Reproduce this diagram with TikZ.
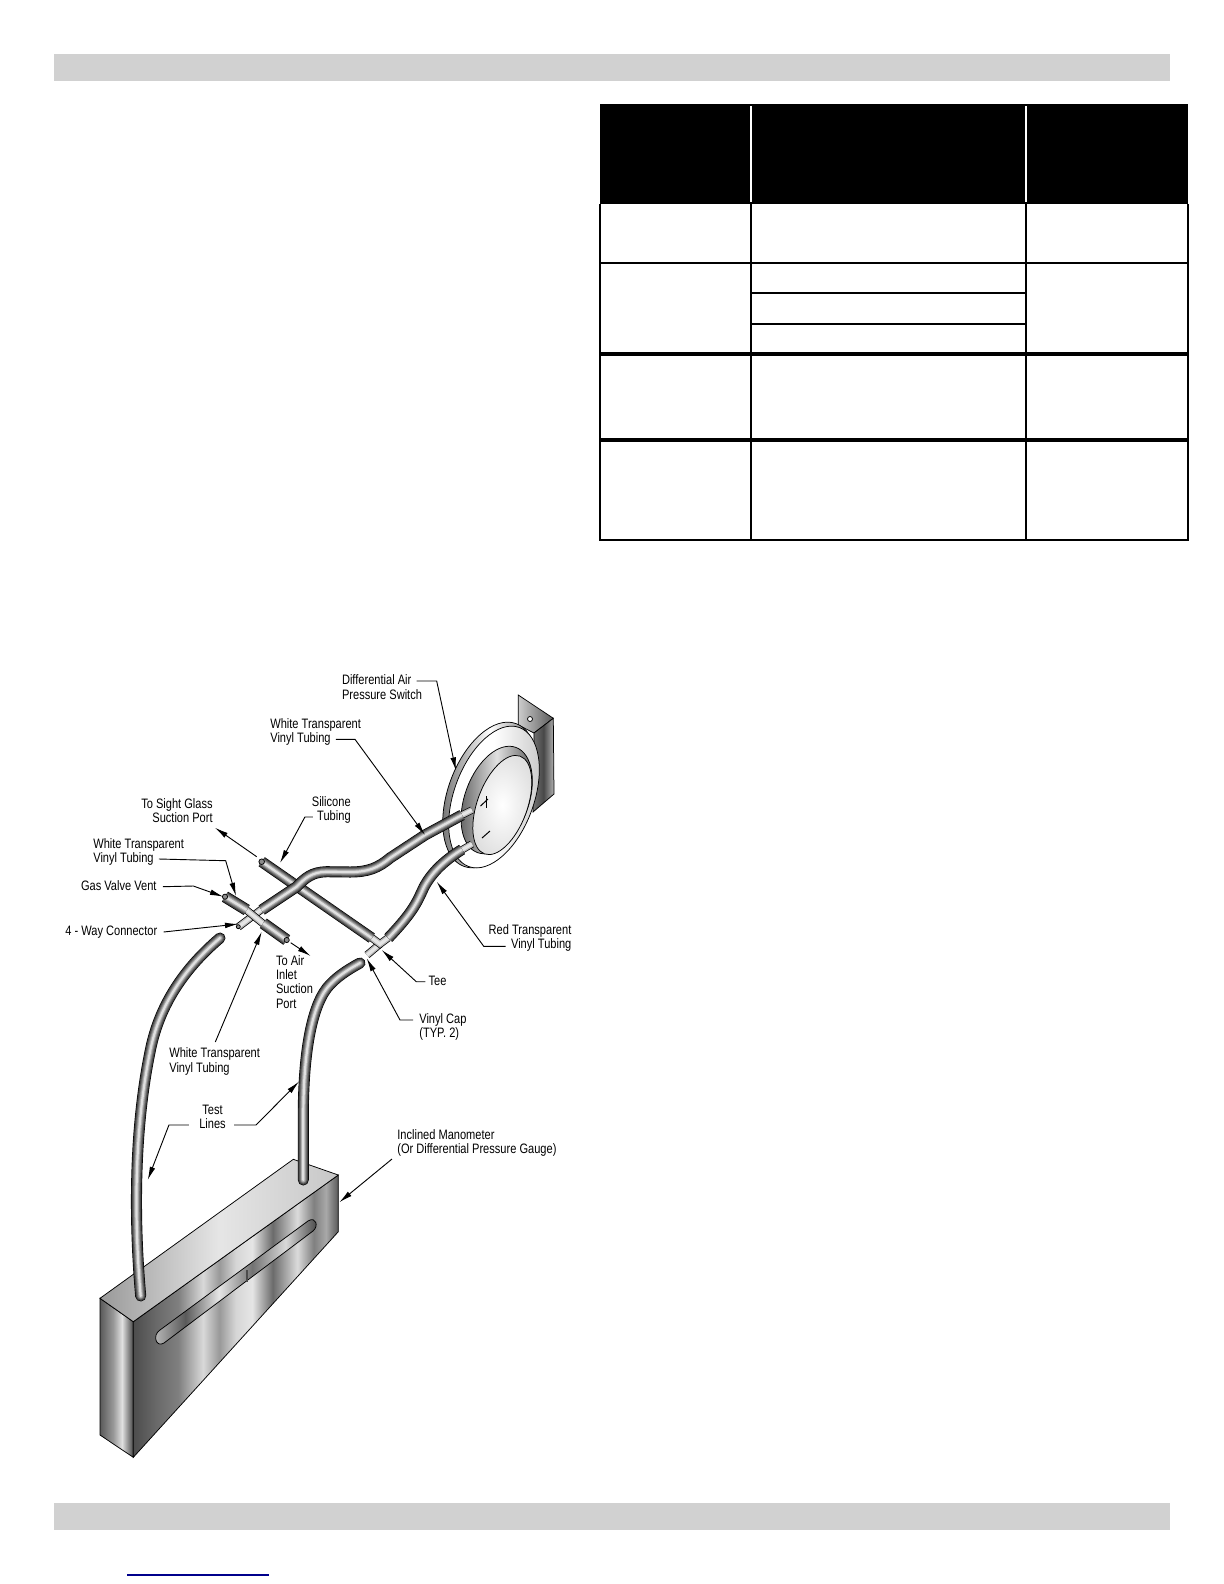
\documentclass[tikz,border=0pt]{standalone}
\usepackage{fontspec}
\setmainfont[FakeStretch=0.81]{Liberation Sans}
\usetikzlibrary{arrows.meta}
% stripes of the brushed metal block
\pgfdeclarehorizontalshading{metalfront}{100bp}{rgb(0bp)=(.3,.3,.3); rgb(25bp)=(.3,.3,.3); rgb(31bp)=(.42,.42,.42); rgb(36bp)=(.5,.5,.5); rgb(42bp)=(.85,.85,.85); rgb(46bp)=(.6,.6,.6); rgb(50bp)=(.84,.84,.84); rgb(54bp)=(.9,.9,.9); rgb(59bp)=(.42,.42,.42); rgb(65bp)=(.86,.86,.86); rgb(69bp)=(.5,.5,.5); rgb(72bp)=(.66,.66,.66); rgb(75bp)=(.35,.35,.35); rgb(100bp)=(.35,.35,.35)}
\pgfdeclarehorizontalshading{metalside}{100bp}{rgb(0bp)=(.35,.35,.35); rgb(25bp)=(.35,.35,.35); rgb(45bp)=(.6,.6,.6); rgb(58bp)=(.88,.88,.88); rgb(75bp)=(.28,.28,.28); rgb(100bp)=(.28,.28,.28)}
\pgfdeclarehorizontalshading{metalslot}{100bp}{rgb(0bp)=(.75,.75,.75); rgb(25bp)=(.75,.75,.75); rgb(35bp)=(.35,.35,.35); rgb(45bp)=(.9,.9,.9); rgb(55bp)=(.45,.45,.45); rgb(65bp)=(.85,.85,.85); rgb(75bp)=(.25,.25,.25); rgb(100bp)=(.25,.25,.25)}
\tikzset{
  lbl/.style={inner sep=0pt,anchor=west,text height=6pt,text depth=1.7pt,font=\fontsize{8.2}{9}\selectfont},
  ldr/.style={line width=.55pt,-{Latex[length=8pt,width=3.4pt]}},
  rule/.style={line width=1.2pt},
  heavyrule/.style={line width=2.2pt},
  edge/.style={draw=black,line width=.45pt}
}
\newcommand{\tube}[3][]{%
  \foreach \w/\g in {1/0,.88/25,.7/38,.54/52,.38/68,.2/88}
    \draw[#1,line width=\w*#2pt,color=white!\g!black] #3;}
\newcommand{\stub}[2]{%
  \foreach \w/\g in {1/0,.8/72,.45/90}
    \draw[line width=\w*#1pt,color=white!\g!black] #2;}
\begin{document}
\begin{tikzpicture}[x=0.6pt,y=-0.6pt]
  \useasboundingbox (0,0) rectangle (1224,1584);
  % page bars
  \fill[black!18!white] (54,54) rectangle (1170,81);
  \fill[black!18!white] (54,1503) rectangle (1170,1530);
  \draw[color=blue!55!black,line width=.7pt] (127,1575) -- (269,1575);

  % table
  \fill (599.5,104) rectangle (1187.7,204);
  \draw[white,rule] (751,106) -- (751,202);
  \draw[white,rule] (1026,106) -- (1026,202);
  \draw[rule] (599.5,204) -- (599.5,540) -- (1187.7,540) -- (1187.7,204);
  \draw[rule] (751,204) -- (751,540);
  \draw[rule] (1026,204) -- (1026,540);
  \draw[rule] (599.5,263) -- (1187.7,263);
  \draw[rule] (751,292.7) -- (1026,292.7);
  \draw[rule] (751,324) -- (1026,324);
  \draw[heavyrule] (599.5,353.7) -- (1187.7,353.7);
  \draw[heavyrule] (599.5,439.7) -- (1187.7,439.7);

  % bracket behind the switch
  \draw[edge,left color=black!20,right color=black!65] (518.3,695) -- (553.3,718.3) -- (534,733) -- (518.3,725) -- cycle;
  \draw[edge,left color=black!55,right color=black!30,middle color=black!72] (534,733) -- (553.3,718.3) -- (554,794) -- (533,812) -- cycle;
  \draw[edge,fill=white] (530,719) circle (2.5);

  % pressure switch
  \draw[edge,left color=black!60,right color=black!65,middle color=white,rotate around={70:(490,795)}] (490,795) ellipse [x radius=76,y radius=42];
  \draw[edge,left color=white,right color=black!22,middle color=white,rotate around={70:(494,797)}] (494,797) ellipse [x radius=74,y radius=40];
  \draw[edge,left color=black!65,right color=black!70,middle color=black!12,rotate around={70:(496.7,800)}] (496.7,800) ellipse [x radius=56,y radius=32];
  \draw[edge,inner color=white,outer color=black!12,rotate around={70:(502.3,805)}] (502.3,805) ellipse [x radius=52,y radius=25];
  \draw[edge,line width=.6pt] (480.5,806) -- (488,799);
  \draw[edge,line width=.6pt] (486.5,796) -- (486.5,808);
  \draw[edge,line width=.6pt] (482,838) -- (490,831);

  % manometer
  \draw[edge,shading=metalside] (100,1298.3) -- (133.3,1321.7) -- (133.3,1457.3) -- (100,1435) -- cycle;
  \draw[edge,shading=metalfront] (133.3,1321.7) -- (338.3,1175) -- (338.3,1231.7) -- (133.3,1457.3) -- cycle;
  \draw[edge,left color=black!40,right color=black!22,middle color=black!10] (100,1298.3) -- (293.3,1159.3) -- (338.3,1175) -- (133.3,1321.7) -- cycle;
  \draw[edge,shading=metalslot] (160,1330) -- (308,1221) .. controls (316,1216) and (319,1226) .. (313,1231) -- (164,1343) .. controls (156,1348) and (152,1335) .. (160,1330) -- cycle;
  \draw[line width=1.2pt,black!70] (246.7,1270) -- (246.7,1281.7);

  % tubing
  \tube[line cap=round]{6.6}{(140.7,1296) .. controls (134,1220) and (134,1130) .. (150,1052) .. controls (158,1010) and (180,972) .. (220,938)};
  \tube[line cap=round]{6.6}{(303.3,1180) -- (303.3,1120) .. controls (303,1060) and (310,1010) .. (327,988) .. controls (335,978) and (347,970) .. (360,963)};
  % fittings
  \stub{4.6}{(238.3,927) -- (262,909)};
  \stub{4.6}{(244,908) -- (266,926)};
  \stub{4.6}{(367,955) -- (380,944)};
  \stub{4.6}{(372,938) -- (380,944) -- (388,938)};
  \stub{4.4}{(460,816) -- (472,810)};
  \stub{4.4}{(460,851) -- (472,844)};
  \tube{6.6}{(261.7,861.7) -- (371.7,938)};
  \tube{6.6}{(462,815) -- (425,835) -- (390,858) .. controls (378,868) and (368,872) .. (350,872) -- (326.7,871.7) .. controls (312,872) and (305,878) .. (296.7,886.7) -- (261.7,910)};
  \tube{6.6}{(462,849.5) .. controls (445,860) and (432,872) .. (424,887) .. controls (417,902) and (414,911) .. (388.3,938)};
  \tube{7}{(225,896.7) -- (246.7,910)};
  \tube{7}{(286.7,940) -- (263.3,923.3)};
  \draw[edge,fill=black!45] (238.3,926.7) circle (2);
  \draw[edge,fill=black!45] (225,896.7) circle (2.6);
  \draw[edge,fill=black!45] (286.7,940) circle (2.6);
  \draw[edge,fill=black!45] (261.7,861.7) circle (2.8);

  % labels
  \node[lbl] (nSwitchA) at (341.7,681) {Differential Air};
  \node[lbl] (nSwitchB) at (341.7,696) {Pressure Switch};
  \node[lbl] (nUpperA) at (270,725.3) {White Transparent};
  \node[lbl] (nUpperB) at (270,739.3) {Vinyl Tubing};
  \node[lbl,anchor=east] (nSightA) at (213,805) {To Sight Glass};
  \node[lbl,anchor=east] (nSightB) at (213,819) {Suction Port};
  \node[lbl,anchor=east] (nSiliconeA) at (351,803) {Silicone};
  \node[lbl,anchor=east] (nSiliconeB) at (351,817) {Tubing};
  \node[lbl] (nVentA) at (93,845) {White Transparent};
  \node[lbl] (nVentB) at (93,859) {Vinyl Tubing};
  \node[lbl] (nGas) at (80.7,886.7) {Gas Valve Vent};
  \node[lbl] (nWay) at (65,932) {4 - Way Connector};
  \node[lbl] (nAirA) at (275.7,962) {To Air};
  \node[lbl] (nAirB) at (275.7,976) {Inlet};
  \node[lbl] (nAirC) at (275.7,990) {Suction};
  \node[lbl] (nAirD) at (275.7,1005) {Port};
  \node[lbl] (nLowerA) at (169,1054) {White Transparent};
  \node[lbl] (nLowerB) at (169,1068.5) {Vinyl Tubing};
  \node[lbl,anchor=east] (nRedA) at (571.7,930.7) {Red Transparent};
  \node[lbl,anchor=east] (nRedB) at (571.7,945.3) {Vinyl Tubing};
  \node[lbl] (nTee) at (428.3,981.7) {Tee};
  \node[lbl] (nCapA) at (419,1020) {Vinyl Cap};
  \node[lbl] (nCapB) at (419,1034) {(TYP. 2)};
  \node[lbl,anchor=center] (nTestA) at (212.5,1111) {Test};
  \node[lbl,anchor=center] (nTestB) at (212.5,1125) {Lines};
  \node[lbl] (nGaugeA) at (397,1136) {Inclined Manometer};
  \node[lbl] (nGaugeB) at (397,1150) {(Or Differential Pressure Gauge)};

  % arrow ends
  \coordinate (tSwitch) at (456,770.7);
  \coordinate (tUpper) at (425,835);
  \coordinate (sSight) at (256.7,856.7);
  \coordinate (tSight) at (215,827.7);
  \coordinate (tSilicone) at (280,863);
  \coordinate (tVent) at (236,896);
  \coordinate (tGas) at (223.3,896.7);
  \coordinate (tWay) at (238.3,924);
  \coordinate (sAir) at (290.7,942.7);
  \coordinate (tAir) at (310.7,956);
  \coordinate (tLower) at (261.7,931.7);
  \coordinate (tRed) at (436.7,881.7);
  \coordinate (tTee) at (381.7,950);
  \coordinate (tCap) at (366.7,958.3);
  \coordinate (tTestL) at (147.7,1180);
  \coordinate (tTestR) at (299,1081.6);
  \coordinate (tGauge) at (339.3,1202.3);

  % leaders
  \draw[ldr] (nSwitchA.east) ++(5,0) -- ++(20,0) -- (tSwitch);
  \draw[ldr] (nUpperB.east) ++(5,0) -- ++(19,0) -- (tUpper);
  \draw[ldr] (sSight) -- (tSight);
  \draw[ldr] (nSiliconeB.west) ++(-4,0) -- ++(-8,0) -- (tSilicone);
  \draw[ldr] (nVentB.east) ++(5,0) -- (225.7,860.7) -- (tVent);
  \draw[ldr] (nGas.east) ++(6,0) -- (193.3,886) -- (tGas);
  \draw[ldr] (nWay.east) ++(6,0) -- (tWay);
  \draw[ldr] (sAir) -- (tAir);
  \draw[ldr] (nLowerA.east) ++(-45,-12) -- (tLower);
  \draw[ldr] (nRedB.west) ++(-5,1) -- ++(-22,0) -- (tRed);
  \draw[ldr] (nTee.west) ++(-3,0) -- ++(-9,0) -- (tTee);
  \draw[ldr] (nCapA.west) ++(-6,0) -- ++(-13,0) -- (tCap);
  \draw[ldr] (nTestB.west) ++(-10,0) -- ++(-20,0) -- (tTestL);
  \draw[ldr] (nTestB.east) ++(8,0) -- ++(22,0) -- (tTestR);
  \draw[ldr] (nGaugeB.west) ++(-5,9) -- (tGauge);
\end{tikzpicture}
\end{document}
